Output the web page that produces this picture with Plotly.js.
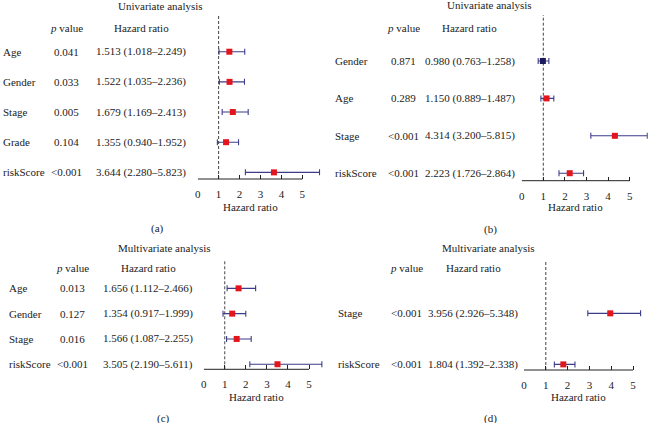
<!DOCTYPE html>
<html>
<head>
<meta charset="utf-8">
<script src="https://cdn.plot.ly/plotly-3.0.1.min.js"></script>
<style>html,body{margin:0;padding:0;background:#fff;}#chart{width:648px;height:423px;}</style>
</head>
<body>
<div id="chart"></div>
<script>
// ---- data ----
const varsA = ['Age', 'Gender', 'Stage', 'Grade', 'riskScore'];
const pA = ['0.041', '0.033', '0.005', '0.104', '<0.001'];
const hrA = [1.513, 1.522, 1.679, 1.355, 3.644];
const loA = [1.018, 1.035, 1.169, 0.940, 2.280];
const hiA = [2.249, 2.236, 2.413, 1.952, 5.823];

const varsB = ['Gender', 'Age', 'Stage', 'riskScore'];
const pB = ['0.871', '0.289', '<0.001', '<0.001'];
const hrB = [0.980, 1.150, 4.314, 2.223];
const loB = [0.763, 0.889, 3.200, 1.726];
const hiB = [1.258, 1.487, 5.815, 2.864];

const varsC = ['Age', 'Gender', 'Stage', 'riskScore'];
const pC = ['0.013', '0.127', '0.016', '<0.001'];
const hrC = [1.656, 1.354, 1.566, 3.505];
const loC = [1.112, 0.917, 1.087, 2.190];
const hiC = [2.466, 1.999, 2.255, 5.611];

const varsD = ['Stage', 'riskScore'];
const pD = ['<0.001', '<0.001'];
const hrD = [3.956, 1.804];
const loD = [2.926, 1.392];
const hiD = [5.348, 2.338];

const xTicks = [0, 1, 2, 3, 4, 5];
const panelTitles = ['Univariate analysis', 'Univariate analysis', 'Multivariate analysis', 'Multivariate analysis'];
const panelLetters = ['(a)', '(b)', '(c)', '(d)'];

// ---- layout helpers ----
const W = 648, H = 423;
const FONT = '"Liberation Serif", "Times New Roman", serif';
const TXT = '#222';
const py = p => 1 - p / H;
const px = p => p / W;

// x0: pixel of HR=0, unit: pixels per HR unit, xmax: right end of range
const panels = [
  {vars: varsA, p: pA, hr: hrA, lo: loA, hi: hiA,
   x0: 197.7, unit: 20.92, xmax: 6.0, ydom: [179, 14], yr: [4.22, -1.25],
   col: {lab: 1, p: 66.7, hr: 141}, head: 28, title: [160, 6], letter: [157.7, 228.5], xt: 207},
  {vars: varsB, p: pB, hr: hrB, lo: loB, hi: hiB,
   x0: 521.7, unit: 21.6, xmax: 5.84, ydom: [180.7, 15], yr: [3.2, -1.23],
   col: {lab: 333, p: 403, hr: 469.7}, head: 28, title: [489.7, 5], letter: [490.7, 229], xt: 207},
  {vars: varsC, p: pC, hr: hrC, lo: loC, hi: hiC,
   x0: 203.7, unit: 21.06, xmax: 6.0, ydom: [369.3, 260], yr: [3.2, -1.12],
   col: {lab: 6.7, p: 72.7, hr: 148}, head: 268.3, title: [164, 247.7], letter: [163, 418.5], xt: 396.7},
  {vars: varsD, p: pD, hr: hrD, lo: loD, hi: hiD,
   x0: 524, unit: 21.8, xmax: 5.68, ydom: [370, 260], yr: [1.11, -1.045],
   col: {lab: 336.3, p: 406.3, hr: 473}, head: 268.3, title: [488, 247.7], letter: [490.7, 418.5], xt: 397.3}
];

const traces = [];
const annotations = [];
const shapes = [];
const layout = {
  width: W, height: H,
  margin: {l: 0, r: 0, t: 0, b: 0},
  paper_bgcolor: '#fff', plot_bgcolor: 'rgba(0,0,0,0)',
  showlegend: false,
  font: {family: FONT, size: 11, color: TXT}
};

function fmt(v) { return v.toFixed(3); }

panels.forEach((pn, k) => {
  const n = k + 1;
  const xa = n === 1 ? 'x' : 'x' + n;
  const ya = n === 1 ? 'y' : 'y' + n;
  const xkey = n === 1 ? 'xaxis' : 'xaxis' + n;
  const ykey = n === 1 ? 'yaxis' : 'yaxis' + n;

  const right = Math.min(W, pn.x0 + pn.unit * pn.xmax);
  layout[xkey] = {
    domain: [px(pn.x0), px(right)],
    anchor: ya, range: [0, pn.xmax], tickvals: xTicks, ticktext: xTicks.map(String),
    showline: false,
    ticks: 'inside', ticklen: 4, tickwidth: 1, tickcolor: TXT,
    ticklabelstandoff: 7,
    showgrid: false, zeroline: false, fixedrange: true,
    tickfont: {family: FONT, size: 11, color: TXT}
  };
  layout[ykey] = {
    domain: [py(pn.ydom[0]), py(pn.ydom[1])],
    anchor: xa, type: 'category', categoryarray: pn.vars, range: pn.yr,
    showline: false, showticklabels: false, showgrid: false, zeroline: false, ticks: '', fixedrange: true
  };

  traces.push({
    type: 'scatter', mode: 'markers', xaxis: xa, yaxis: ya,
    x: pn.hr, y: pn.vars, cliponaxis: false,
    marker: {symbol: 'square', size: 6, color: pn.hr.map(v => v < 1 ? '#1c1c5c' : '#e3141b')},
    error_x: {
      type: 'data', symmetric: false,
      array: pn.hi.map((h, i) => h - pn.hr[i]),
      arrayminus: pn.lo.map((l, i) => pn.hr[i] - l),
      color: '#3c3c8a', thickness: 1.1, width: 3
    },
    hoverinfo: 'skip'
  });

  // reference line at HR = 1
  shapes.push({
    type: 'line', xref: xa, yref: ya + ' domain', x0: 1, x1: 1, y0: 0, y1: 1,
    line: {color: '#444', width: 1, dash: '3px,2px'}, layer: 'below'
  });
  // axis line spanning the tick range only
  shapes.push({
    type: 'line', xref: xa, yref: ya + ' domain', x0: xTicks[0], x1: xTicks[xTicks.length - 1], y0: 0, y1: 0,
    line: {color: TXT, width: 1}, layer: 'above'
  });

  // row texts
  pn.vars.forEach((v, i) => {
    annotations.push({xref: 'paper', yref: ya, x: px(pn.col.lab), y: v, xanchor: 'left', yanchor: 'middle',
      text: v, showarrow: false});
    annotations.push({xref: 'paper', yref: ya, x: px(pn.col.p), y: v, xanchor: 'center', yanchor: 'middle',
      text: pn.p[i], showarrow: false});
    annotations.push({xref: 'paper', yref: ya, x: px(pn.col.hr), y: v, xanchor: 'center', yanchor: 'middle',
      text: fmt(pn.hr[i]) + ' (' + fmt(pn.lo[i]) + '\u2013' + fmt(pn.hi[i]) + ')', showarrow: false});
  });
  // headers
  annotations.push({xref: 'paper', yref: 'paper', x: px(pn.col.p), y: py(pn.head), xanchor: 'center', yanchor: 'middle',
    text: '<i>p</i> value', showarrow: false});
  annotations.push({xref: 'paper', yref: 'paper', x: px(pn.col.hr), y: py(pn.head), xanchor: 'center', yanchor: 'middle',
    text: 'Hazard ratio', showarrow: false});
  // panel title
  annotations.push({xref: 'paper', yref: 'paper', x: px(pn.title[0]), y: py(pn.title[1]), xanchor: 'center', yanchor: 'middle',
    text: panelTitles[k], showarrow: false});
  // letter
  annotations.push({xref: 'paper', yref: 'paper', x: px(pn.letter[0]), y: py(pn.letter[1]), xanchor: 'center', yanchor: 'middle',
    text: panelLetters[k], showarrow: false});
  // x axis title, centred on the tick range
  annotations.push({xref: xa, yref: 'paper', x: (xTicks[0] + xTicks[xTicks.length - 1]) / 2, y: py(pn.xt),
    xanchor: 'center', yanchor: 'middle', text: 'Hazard ratio', showarrow: false});
});

layout.annotations = annotations;
layout.shapes = shapes;

Plotly.newPlot('chart', traces, layout, {displayModeBar: false, staticPlot: true});
</script>
</body>
</html>
